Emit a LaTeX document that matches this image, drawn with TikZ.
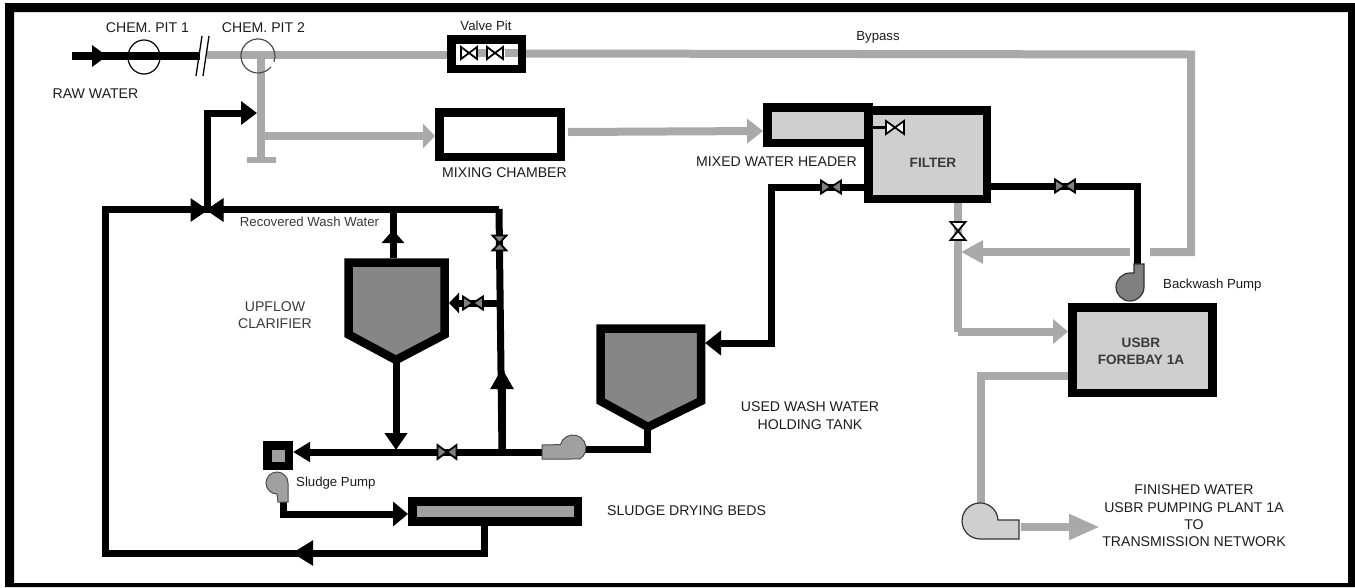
\documentclass[tikz,border=0pt]{standalone}
\usepackage{fontspec}
\setmainfont{Liberation Sans}
\usetikzlibrary{arrows.meta,shapes.geometric}
\definecolor{pipegray}{HTML}{A9A9A9}
\definecolor{lightfill}{HTML}{CFCFCF}
\definecolor{darkfill}{HTML}{868686}
\definecolor{midfill}{HTML}{A0A0A0}
\definecolor{inktext}{HTML}{1C1C1C}
\definecolor{softtext}{HTML}{3A3A3A}
\tikzset{
  bigtip/.tip={Triangle[length=16pt,width=23pt]},
  bpipe/.style={draw=black,line width=7pt,miter limit=10},
  gpipe/.style={draw=pipegray,line width=8pt,miter limit=10},
  vessel/.style={draw=black,rectangle,inner sep=0pt,outer sep=0pt,line width=8.5pt,miter limit=10},
  capslabel/.style={inner sep=0pt,text=inktext,align=center,font=\fontsize{14.1}{17.3}\selectfont},
  smalllabel/.style={inner sep=0pt,text=inktext,font=\fontsize{13.2}{16}\selectfont},
  boldlabel/.style={inner sep=0pt,text=softtext,align=center,font=\fontsize{13.6}{16.5}\selectfont\bfseries},
  openvalve/.style={draw=black,fill=white,line width=1.8pt},
  greyvalve/.style={draw=black,fill=gray,line width=1.8pt},
  solidvalve/.style={draw=black,fill=black,line width=1pt},
  pics/hvalve/.style 2 args={code={\path[pic actions] (-#1,-#2) -- (#1,#2) -- (#1,-#2) -- (-#1,#2) -- cycle;}},
  pics/vvalve/.style 2 args={code={\path[pic actions] (-#1,-#2) -- (#1,-#2) -- (-#1,#2) -- (#1,#2) -- cycle;}}
}
\begin{document}
\begin{tikzpicture}[x=1pt,y=-1pt]
\useasboundingbox (0,0) rectangle (1355,587);
\fill[white] (0,0) rectangle (1355,587);
\fill[black,even odd rule] (5,3) rectangle (1355,587) (14,12) rectangle (1348,583);

% junction coordinates
\coordinate (rawstart) at (72,56);
\coordinate (rawhead) at (107,56);
\coordinate (rawend) at (200,56);
\coordinate (linestart) at (207,54.5);
\coordinate (teejoin) at (261,54.5);
\coordinate (teebottom) at (261,160);
\coordinate (teebarL) at (247,160);
\coordinate (teebarR) at (276,160);
\coordinate (mixjoin) at (261,136);
\coordinate (recjoin) at (207,209);
\coordinate (rectip) at (257,113);
\coordinate (reccorner) at (207,113);
\coordinate (bypasscorner) at (1191,54.5);
\coordinate (bypassdown) at (1191,252);
\coordinate (gapR) at (1150,252);
\coordinate (gapL) at (1130,252);
\coordinate (bypasstip) at (961,252);
\coordinate (filtertap) at (958,199);
\coordinate (forebayjoin) at (958,331.5);
\coordinate (forebayout) at (981,376);
\coordinate (finalfeed) at (981,503);
\coordinate (finalfrom) at (1021,527);
\coordinate (finaltip) at (1100,527);
\coordinate (washcorner) at (771,187);
\coordinate (washtankcorner) at (771,343);
\coordinate (washtanktip) at (705,343);
\coordinate (filterout) at (991,186);
\coordinate (bwcorner) at (1137,186);
\coordinate (bwpump) at (1137,264);
\coordinate (leftcorner) at (105,209);
\coordinate (lowcorner) at (105,553);
\coordinate (bedcorner) at (484,553);
\coordinate (bedhead) at (292,553);
\coordinate (bedout) at (484,522);
\coordinate (topright) at (499,209);
\coordinate (riserbase) at (502,452);
\coordinate (riserhead) at (502,368);
\coordinate (clartop) at (393,258);
\coordinate (clarhead) at (393,230);
\coordinate (clartoppipe) at (393,209);
\coordinate (clarfoot) at (396,362);
\coordinate (maindrop) at (396,450);
\coordinate (sidetip) at (449,303);
\coordinate (sidejoin) at (499,303);
\coordinate (mainhead) at (293,452);
\coordinate (pumpL) at (545,452);
\coordinate (pumpR) at (585,449);
\coordinate (tankfootc) at (647,449);
\coordinate (tankfoot) at (647,428);
\coordinate (spfoot) at (283,501);
\coordinate (spcorner) at (283,514);

% grey pipes
\draw[gpipe] (linestart) -- (teejoin);
\draw[gpipe] (teejoin) -- (teebottom);
\draw[draw=pipegray,line width=5.5pt] (teebarL) -- (teebarR);
\draw[gpipe] (teejoin) -- (447,54.5);
\draw[gpipe] (526,53.5) -- (bypasscorner) -- (bypassdown) -- (gapR);
\draw[gpipe,-{Triangle[length=22pt,width=22pt]}] (gapL) -- (bypasstip);
\draw[gpipe] (filtertap) -- (forebayjoin);
\draw[gpipe,-{Triangle[length=15pt,width=24pt]}] (forebayjoin) -- (1068,331.5);
\draw[gpipe] (1068,376) -- (forebayout) -- (finalfeed);
\draw[gpipe,-{Triangle[length=31pt,width=24pt]}] (finalfrom) -- (finaltip);
\draw[gpipe,-{Triangle[length=12pt,width=24pt]}] (mixjoin) -- (435,136);
\draw[gpipe,-{Triangle[length=16pt,width=24pt]}] (568,132) -- (763,131);

% black pipes
\draw[bpipe,line width=8pt] (rawstart) -- (rawend);
\draw[bpipe,line width=8pt,-{Triangle[length=15pt,width=21pt]}] (rawstart) -- (rawhead);
\draw[bpipe,-{bigtip}] (recjoin) -- (reccorner) -- (rectip);
\draw[bpipe] (topright) -- (leftcorner) -- (lowcorner) -- (bedcorner) -- (bedout);
\draw[bpipe,-{Triangle[length=21pt,width=24pt]}] (bedcorner) -- (bedhead);
\draw[bpipe] (topright) -- (riserbase);
\draw[bpipe,-{Triangle[length=21pt,width=22pt]}] (riserbase) -- (riserhead);
\draw[bpipe] (clartop) -- (clartoppipe);
\draw[bpipe,-{Triangle[length=13pt,width=22pt]}] (clartop) -- (clarhead);
\draw[bpipe,-{Triangle[length=17pt,width=22pt]}] (clarfoot) -- (maindrop);
\draw[bpipe,-{Triangle[length=10pt,width=20pt]}] (sidejoin) -- (sidetip);
\draw[bpipe,-{Triangle[length=17pt,width=19pt]}] (pumpL) -- (mainhead);
\draw[bpipe] (pumpR) -- (tankfootc) -- (tankfoot);
\draw[bpipe] (864,187) -- (washcorner) -- (washtankcorner) -- (718,343);
\draw[bpipe,-{Triangle[length=16pt,width=24pt]}] (washtankcorner) -- (washtanktip);
\draw[bpipe] (filterout) -- (bwcorner) -- (bwpump);
\draw[bpipe,-{Triangle[length=15pt,width=24pt]}] (spfoot) -- (spcorner) -- (408,514);

% chemical pits and break marks
\node[draw=black,ellipse,line width=1.2pt,minimum width=32pt,minimum height=34pt,inner sep=0pt] (pitone) at (144,57) {};
\draw[black,line width=1.3pt] (196,76) -- (202,36);
\draw[black,line width=1.3pt] (203,76) -- (209,36);
\path[draw=black!70,line width=1.2pt] (271,66.9) arc[start angle=40,end angle=380,radius=17];

% vessels
\node[vessel,fill=white,minimum width=70.5pt,minimum height=29.5pt,line width=8.5pt] (valvepit) at (486.5,54) {};
\draw[gpipe] (478,53) -- (486,53);
\draw[gpipe] (505,53) -- (518,53);
\node[vessel,fill=white,minimum width=121.5pt,minimum height=44.5pt] (mixing) at (500,134.5) {};
\node[vessel,fill=lightfill,minimum width=101pt,minimum height=35.5pt] (header) at (818,125) {};
\node[vessel,fill=lightfill,minimum width=118.5pt,minimum height=88.5pt] (filter) at (927.5,154.5) {};
\node[vessel,fill=lightfill,minimum width=140pt,minimum height=85.5pt] (forebay) at (1142.5,350) {};
\node[vessel,fill=midfill,minimum width=165.5pt,minimum height=20pt] (beds) at (495,511.5) {};
\node[vessel,fill=midfill,minimum width=21.5pt,minimum height=20.5pt] (sludgebox) at (278,455.5) {};
\draw[black,line width=8.5pt,fill=darkfill,miter limit=10] (348.5,262.5) -- (444.5,262.5) -- (444.5,334.5) -- (396,360) -- (348.5,334.5) -- cycle;
\draw[black,line width=8.5pt,fill=darkfill,miter limit=10] (600.5,328.5) -- (701,328.5) -- (701,401) -- (648,427) -- (600.5,401) -- cycle;

% pumps
\draw[black!80,line width=1.2pt,fill=gray] (1134,264) -- (1144,264) -- (1144,287) arc[start angle=0,end angle=270,radius=14] -- (1134,273) -- cycle;
\draw[black!70,line width=1pt,fill=midfill] (542,445) -- (560.4,444.6) arc[start angle=195,end angle=418,radius=13] -- (542,459) -- cycle;
\draw[black!70,line width=1pt,fill=midfill] (288,483) arc[start angle=0,end angle=-270,radius=11] -- (278,502) -- (288,502) -- cycle;
\draw[black!80,line width=1.2pt,fill=lightfill] (998,520) arc[start angle=-3,end angle=-270,radius=18] -- (1019,539) -- (1019,520) -- cycle;

% valves
\path (207,210) pic[solidvalve] {hvalve={16}{11}};
\path (469,53) pic[openvalve] {hvalve={8}{6}};
\path (495,53) pic[openvalve] {hvalve={8}{6}};
\path (895,127.5) pic[openvalve] {hvalve={9}{6.5}};
\draw[black,line width=3pt] (873,127.5) -- (886,127.5);
\path (958,231) pic[openvalve] {vvalve={7.5}{9}};
\path (499.5,243) pic[greyvalve] {vvalve={7}{7.5}};
\path (473,303) pic[greyvalve] {hvalve={10}{6.5}};
\path (447,452) pic[greyvalve] {hvalve={9.5}{7}};
\path (831,187) pic[greyvalve] {hvalve={10}{6.5}};
\path (1065,186) pic[greyvalve] {hvalve={10}{6.5}};

% labels
\node[capslabel] (lpit1) at (147.5,28) {CHEM. PIT 1};
\node[capslabel] (lpit2) at (263.5,27.5) {CHEM. PIT 2};
\node[capslabel] (lraw) at (95.5,94) {RAW WATER};
\node[smalllabel] (lvalve) at (486,26) {Valve Pit};
\node[smalllabel] (lbypass) at (878,37) {Bypass};
\node[capslabel] (lmix) at (504.5,173) {MIXING CHAMBER};
\node[capslabel,anchor=east] (lheader) at (857,162) {MIXED WATER HEADER};
\node[boldlabel] (lfilter) at (933,163) {FILTER};
\node[smalllabel,text=softtext] (lrec) at (309.5,222) {Recovered Wash Water};
\node[capslabel,text=softtext] (lup) at (275,315) {UPFLOW\\CLARIFIER};
\node[capslabel] (lused) at (810,415.5) {USED WASH WATER\\HOLDING TANK};
\node[smalllabel,anchor=west] (lback) at (1163,285) {Backwash Pump};
\node[boldlabel] (lusbr) at (1141,351.5) {USBR\\FOREBAY 1A};
\node[smalllabel,anchor=west] (lsp) at (296,483) {Sludge Pump};
\node[capslabel,anchor=west] (lbeds) at (607,511) {SLUDGE DRYING BEDS};
\node[capslabel] (lfinish) at (1194,516) {FINISHED WATER\\USBR PUMPING PLANT 1A\\TO\\TRANSMISSION NETWORK};
\end{tikzpicture}
\end{document}
